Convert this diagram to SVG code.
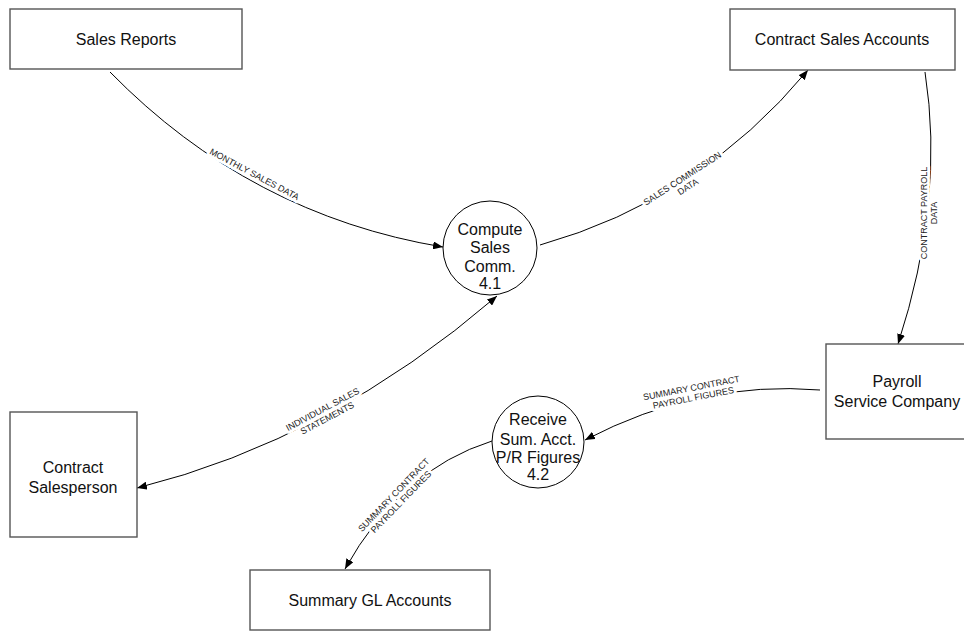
<svg xmlns="http://www.w3.org/2000/svg" width="964" height="631" viewBox="0 0 964 631">
  <defs>
    <marker id="arrow" viewBox="0 0 10 8" refX="10" refY="4" markerWidth="10" markerHeight="8" markerUnits="userSpaceOnUse" orient="auto-start-reverse">
      <path d="M0,0 L10,4 L0,8 Z" fill="#000"/>
    </marker>
    <style>
      .entity { fill: #fff; stroke: #555; stroke-width: 1.4; }
      .process { fill: #fff; stroke: #000; stroke-width: 1; }
      .flow { fill: none; stroke: #000; stroke-width: 1; }
      .name { font-family: "Liberation Sans", Arial, sans-serif; font-size: 16px; fill: #111; text-anchor: middle; }
      .lbl { font-family: "Liberation Sans", Arial, sans-serif; font-size: 9px; fill: #222; text-anchor: middle;
             stroke: #fff; stroke-width: 6; paint-order: stroke; stroke-linejoin: round; }
    </style>
  </defs>

  <rect width="964" height="631" fill="#fff"/>

  <!-- connectors -->
  <g id="connectors">
    <path id="f-monthly" class="flow" d="M110,72 Q250,215 443,247" marker-end="url(#arrow)"/>
    <path id="f-commission" class="flow" d="M540,245 Q700,200 808,70" marker-end="url(#arrow)"/>
    <path id="f-contract-payroll" class="flow" d="M925,72 Q945,200 898,344" marker-end="url(#arrow)"/>
    <path id="f-statements" class="flow" d="M497,296 Q330,440 137,488" marker-start="url(#arrow)" marker-end="url(#arrow)"/>
    <path id="f-summary-1" class="flow" d="M820,390 Q700,380 585,440" marker-end="url(#arrow)"/>
    <path id="f-summary-2" class="flow" d="M492,441 Q400,470 345,569" marker-end="url(#arrow)"/>

    <text class="lbl" transform="translate(253,177) rotate(28)">MONTHLY SALES DATA</text>
    <g transform="translate(684,181) rotate(-33)">
      <text class="lbl" x="0" y="0">SALES COMMISSION</text>
      <text class="lbl" x="0" y="10">DATA</text>
    </g>
    <g transform="translate(927,213) rotate(-90)">
      <text class="lbl" x="0" y="0">CONTRACT PAYROLL</text>
      <text class="lbl" x="0" y="10">DATA</text>
    </g>
    <g transform="translate(324,412) rotate(-28)">
      <text class="lbl" x="0" y="0">INDIVIDUAL SALES</text>
      <text class="lbl" x="0" y="10">STATEMENTS</text>
    </g>
    <g transform="translate(692,391) rotate(-11)">
      <text class="lbl" x="0" y="0">SUMMARY CONTRACT</text>
      <text class="lbl" x="0" y="10">PAYROLL FIGURES</text>
    </g>
    <g transform="translate(396,497) rotate(-46)">
      <text class="lbl" x="0" y="0">SUMMARY CONTRACT</text>
      <text class="lbl" x="0" y="10">PAYROLL FIGURES</text>
    </g>
  </g>

  <!-- external entities -->
  <g id="sales-reports">
    <rect class="entity" x="10" y="9" width="232" height="60"/>
    <text class="name" x="126" y="45">Sales Reports</text>
  </g>
  <g id="contract-sales-accounts">
    <rect class="entity" x="730" y="9" width="225" height="61"/>
    <text class="name" x="842" y="45">Contract Sales Accounts</text>
  </g>
  <g id="payroll-service-company">
    <rect class="entity" x="826" y="344" width="142" height="95"/>
    <text class="name" x="897" y="387">Payroll</text>
    <text class="name" x="897" y="407">Service Company</text>
  </g>
  <g id="contract-salesperson">
    <rect class="entity" x="10" y="412" width="127" height="125"/>
    <text class="name" x="73" y="473">Contract</text>
    <text class="name" x="73" y="493">Salesperson</text>
  </g>
  <g id="summary-gl-accounts">
    <rect class="entity" x="250" y="570" width="240" height="60"/>
    <text class="name" x="370" y="606">Summary GL Accounts</text>
  </g>

  <!-- processes -->
  <g id="compute-sales-comm">
    <circle class="process" cx="490" cy="248" r="47"/>
    <text class="name" x="490" y="235">Compute</text>
    <text class="name" x="490" y="253">Sales</text>
    <text class="name" x="490" y="272">Comm.</text>
    <text class="name" x="490" y="289">4.1</text>
  </g>
  <g id="receive-sum-acct">
    <circle class="process" cx="538" cy="442" r="46"/>
    <text class="name" x="538" y="425">Receive</text>
    <text class="name" x="538" y="445">Sum. Acct.</text>
    <text class="name" x="538" y="463">P/R Figures</text>
    <text class="name" x="538" y="480">4.2</text>
  </g>
</svg>
